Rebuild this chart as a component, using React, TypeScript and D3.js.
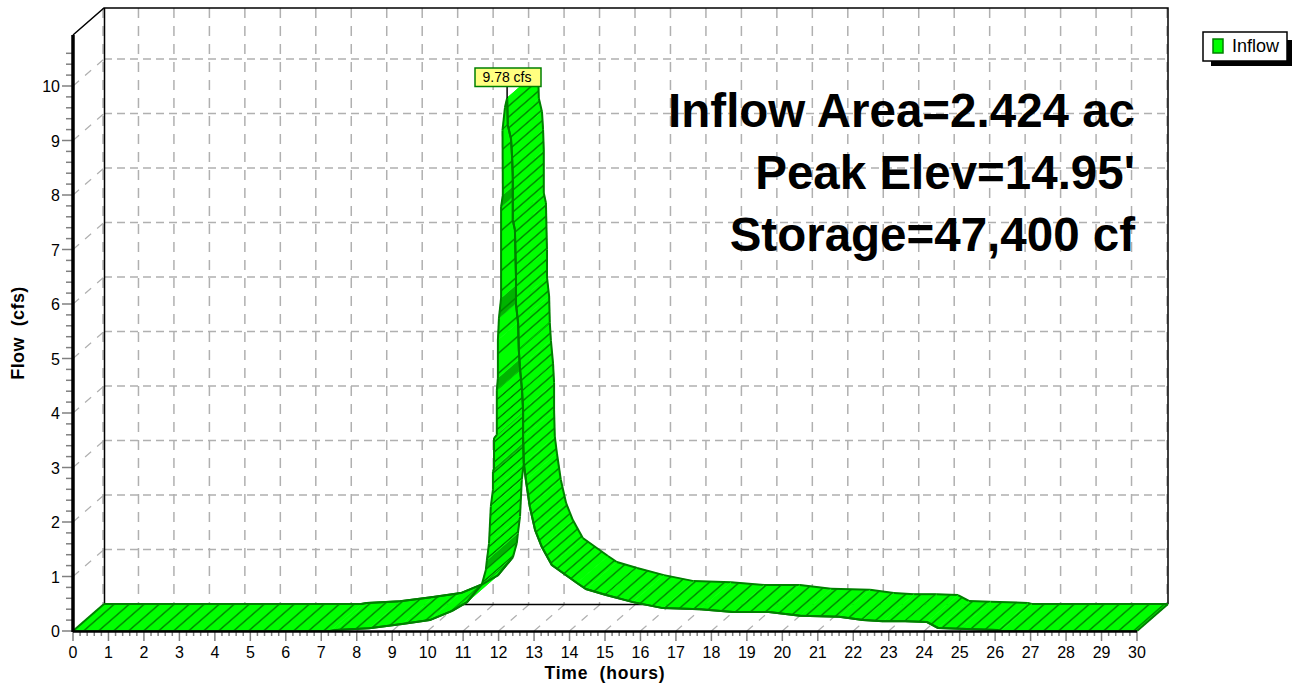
import React from "react";
import * as d3 from "d3";

const flowTimes = [0, 7.25, 7.41, 8.35, 9.28, 10.06, 10.69, 11.11, 11.53, 11.64, 11.67, 11.73, 11.78, 11.84, 11.84, 11.87, 11.87, 11.95, 11.95, 11.98, 11.98, 12.01, 12.07, 12.07, 12.12, 12.11, 12.18, 12.24, 12.26, 12.35, 12.38, 12.4, 12.4, 12.46, 12.49, 12.49, 12.55, 12.57, 12.6, 12.66, 12.69, 12.69, 12.71, 12.77, 12.88, 13.03, 13.22, 13.5, 14.21, 14.46, 15.03, 15.79, 16.63, 17.68, 18.61, 19.62, 20.5, 21.6, 22.27, 22.84, 23.48, 24.08, 24.39, 25, 26.05, 26.16, 30];
const flowValues = [0, 0, 0.02, 0.05, 0.13, 0.2, 0.37, 0.53, 0.86, 1.12, 1.3, 1.61, 2.28, 2.59, 2.92, 2.99, 3.54, 3.6, 4.42, 4.64, 5.34, 5.74, 6.11, 7.78, 8.0, 9.19, 9.61, 9.78, 9.28, 9.03, 8.7, 8.33, 7.54, 7.36, 6.5, 6.0, 5.65, 5.16, 4.84, 4.42, 4.06, 3.56, 3.08, 2.77, 2.28, 1.85, 1.54, 1.21, 0.88, 0.77, 0.66, 0.53, 0.42, 0.4, 0.35, 0.35, 0.28, 0.26, 0.2, 0.18, 0.18, 0.165, 0.055, 0.04, 0.02, 0, 0];
const darkRisingBands = [[7.78, 8.0], [5.74, 6.11], [4.42, 4.64], [3.54, 3.6], [2.92, 2.99], [1.12, 1.3]];
const xTicks = d3.range(0, 31);
const yTicks = d3.range(0, 11);
const infoLines = ["Inflow Area=2.424 ac", "Peak Elev=14.95'", "Storage=47,400 cf"];
const peakLabel = "9.78 cfs";
const peakTime = 12.24;
const peakFlow = 9.78;

const FONT = "'Liberation Sans', Arial, sans-serif";
const LIME = "#00ff00";
const DARK = "#008000";
const GRID = "#b0b0b0";
const TICK = "#808080";
const DX = 31;
const DY = 27;

const x = d3.scaleLinear().domain([0, 30]).range([73, 1137]);
const y = d3.scaleLinear().domain([0, 10]).range([631, 86]);
const TOP_FRONT = 35;
const TOP_BACK = TOP_FRONT - DY;

const pts = flowTimes.map((t, i) => ({ t, q: flowValues[i] }));
const peakIdx = flowValues.indexOf(peakFlow);
const crossIdx = flowValues.indexOf(0.86);

function hatchFor(i: number) {
  const a = pts[i].q, b = pts[i + 1].q;
  if (i < peakIdx) {
    if (a >= 4.42 && b <= 9.61) return "url(#hSparse)";
    if (a >= 0.86) return "url(#hTight)";
    return "url(#hWide)";
  }
  if (a > 1.2) return "url(#hDense)";
  return "url(#hWide)";
}

function isDark(i: number) {
  if (i >= peakIdx) return false;
  const a = pts[i].q, b = pts[i + 1].q;
  return darkRisingBands.some(([l, h]) => l === a && h === b);
}

const Pattern = ({ id, w }: { id: string; w: number }) => (
  <pattern id={id} patternUnits="userSpaceOnUse" width={w} height={DY} patternTransform={`translate(76,631) skewX(${(Math.atan(-DX / DY) * 180) / Math.PI})`}>
    <line x1={w / 2} x2={w / 2} y1={0} y2={DY} stroke={DARK} strokeWidth={2.1} />
  </pattern>
);

export default function App() {
  const minorY = d3.range(0, 54).map((i) => i * 0.2).filter((v) => Math.abs(v * 5 - Math.round(v) * 5) > 0.01 && y(v) >= TOP_FRONT);
  const minorX = d3.range(0, 151).filter((i) => i % 5 !== 0).map((i) => i / 5);
  const frontLine = d3.line<{ t: number; q: number }>().x((d) => x(d.t)).y((d) => y(d.q));
  const backLine = d3.line<{ t: number; q: number }>().x((d) => x(d.t) + DX).y((d) => y(d.q) - DY);
  const tail = pts.slice(0, crossIdx + 1);
  return (
    <svg width={1294} height={683} style={{ position: "absolute", left: 0, top: 0, display: "block", background: "#fff" }} fontFamily={FONT}>
      <defs>
        <Pattern id="hWide" w={15} />
        <Pattern id="hDense" w={12.6} />
        <Pattern id="hTight" w={11.5} />
        <Pattern id="hSparse" w={23} />
      </defs>

      {/* back wall grid */}
      {xTicks.map((t) => (
        <line key={t} x1={x(t) + DX - 1} x2={x(t) + DX - 1} y1={TOP_BACK} y2={y(0) - DY} stroke={GRID} strokeWidth={1.5} strokeDasharray="10 8" />
      ))}
      {yTicks.slice(1).map((q) => (
        <line key={q} x1={x(0) + DX} x2={x(30) + DX} y1={y(q) - DY} y2={y(q) - DY} stroke={GRID} strokeWidth={1.5} strokeDasharray="8 5" />
      ))}
      {yTicks.slice(1).map((q) => (
        <line key={q} x1={x(0)} x2={x(0) + DX} y1={y(q)} y2={y(q) - DY} stroke={GRID} strokeWidth={1.2} strokeDasharray="8 8" />
      ))}
      {xTicks.slice(1).map((t) => (
        <line key={t} x1={x(t)} x2={x(t) + DX} y1={y(0)} y2={y(0) - DY} stroke={GRID} strokeWidth={1.2} strokeDasharray="8 8" />
      ))}

      {/* frame */}
      <path d={`M${x(0)},${TOP_FRONT}L${x(0) + DX},${TOP_BACK}H${x(30) + DX}V${y(0) - DY}`} fill="none" stroke="#000" strokeWidth={1.5} />
      <line x1={x(0) + DX + 0.5} x2={x(0) + DX + 0.5} y1={TOP_BACK} y2={y(0) - DY} stroke="#000" strokeWidth={1.5} />
      <line x1={x(0) + DX} x2={x(30) + DX} y1={y(0) - DY + 0.5} y2={y(0) - DY + 0.5} stroke="#000" strokeWidth={1.5} />

      {/* ribbon */}
      {pts.slice(0, -1).map((a, i) => {
        const b = pts[i + 1];
        const poly = `${x(a.t)},${y(a.q)} ${x(b.t)},${y(b.q)} ${x(b.t) + DX},${y(b.q) - DY} ${x(a.t) + DX},${y(a.q) - DY}`;
        return (
          <g key={i}>
            <polygon points={poly} fill={isDark(i) ? "#00b400" : LIME} stroke={isDark(i) ? "#00b400" : LIME} strokeWidth={0.6} />
            <polygon points={poly} fill={hatchFor(i)} />
            <line x1={x(a.t)} y1={y(a.q)} x2={x(b.t)} y2={y(b.q)} stroke={DARK} strokeWidth={2} />
            <line x1={x(a.t) + DX} y1={y(a.q) - DY} x2={x(b.t) + DX} y2={y(b.q) - DY} stroke={DARK} strokeWidth={2} />
          </g>
        );
      })}
      <path d={frontLine(pts.slice(peakIdx)) ?? ""} fill="none" stroke={DARK} strokeWidth={2} />
      <path d={frontLine(tail) ?? ""} fill="none" stroke={DARK} strokeWidth={2} />
      <path d={backLine(tail) ?? ""} fill="none" stroke={DARK} strokeWidth={2} />
      <line x1={x(0)} y1={y(0)} x2={x(0) + DX} y2={y(0) - DY} stroke={DARK} strokeWidth={2} />
      <line x1={x(30)} y1={y(0)} x2={x(30) + DX} y2={y(0) - DY} stroke={DARK} strokeWidth={2} />

      {/* axes */}
      {minorY.map((v) => (
        <line key={v} x1={66} x2={73} y1={y(v)} y2={y(v)} stroke={TICK} strokeWidth={1.5} />
      ))}
      {yTicks.map((q) => (
        <line key={q} x1={62} x2={73} y1={y(q)} y2={y(q)} stroke={TICK} strokeWidth={1.5} />
      ))}
      {minorX.map((t) => (
        <line key={t} x1={x(t)} x2={x(t)} y1={y(0)} y2={636} stroke={TICK} strokeWidth={1.5} />
      ))}
      {xTicks.map((t) => (
        <line key={t} x1={x(t)} x2={x(t)} y1={y(0)} y2={641} stroke={TICK} strokeWidth={1.5} />
      ))}
      <line x1={x(0)} x2={x(30)} y1={y(0) + 0.5} y2={y(0) + 0.5} stroke="#000" strokeWidth={2.5} />
      <line x1={x(0)} x2={x(0)} y1={y(0) + 1} y2={TOP_FRONT} stroke="#000" strokeWidth={3.5} />

      {yTicks.map((q) => (
        <text key={q} x={60} y={y(q) + 6} textAnchor="end" fontSize={16} fill="#000">{q}</text>
      ))}
      {xTicks.map((t) => (
        <text key={t} x={x(t)} y={658} textAnchor="middle" fontSize={16} fill="#000">{t}</text>
      ))}
      <text x={605} y={678.5} textAnchor="middle" fontSize={17.5} letterSpacing={0.8} fontWeight="bold" style={{ whiteSpace: "pre" }}>Time  (hours)</text>
      <text transform="translate(24,333) rotate(-90)" textAnchor="middle" fontSize={18} letterSpacing={0.4} fontWeight="bold" style={{ whiteSpace: "pre" }}>Flow  (cfs)</text>

      {/* info text */}
      {infoLines.map((s, i) => (
        <text key={s} x={1135} y={127 + i * 62} textAnchor="end" fontSize={47.5} fontWeight="bold" fill="#000">{s}</text>
      ))}

      {/* peak label */}
      <line x1={x(peakTime)} x2={x(peakTime)} y1={y(peakFlow)} y2={86} stroke="#000" strokeWidth={1.5} />
      <rect x={475} y={68} width={66} height={18.5} fill="#ffff80" stroke={DARK} strokeWidth={1.5} />
      <text x={507} y={82} textAnchor="middle" fontSize={14} fill="#000">{peakLabel}</text>

      {/* legend */}
      <rect x={1211} y={40} width={81} height={26} fill="#000" />
      <rect x={1203} y={32} width={84} height={29} fill="#fff" stroke="#000" strokeWidth={1.5} />
      <rect x={1213} y={39} width={10} height={14} fill={LIME} stroke={DARK} strokeWidth={1.5} />
      <text x={1232} y={52} fontSize={18} fill="#000">Inflow</text>
    </svg>
  );
}
